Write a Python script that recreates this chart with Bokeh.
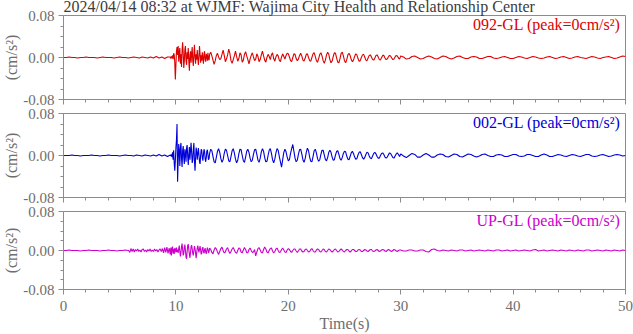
import numpy as np
from bokeh.plotting import figure
from bokeh.layouts import column
from bokeh.models import Range1d, FixedTicker, PrintfTickFormatter, Label
from bokeh.embed import file_html
from bokeh.resources import INLINE

TITLE = "2024/04/14 08:32 at WJMF: Wajima City  Health and Relationship Center"
CHANNELS = ["092-GL", "002-GL", "UP-GL"]
PEAKS = [0, 0, 0]
X_TICKS = [0, 10, 20, 30, 40, 50]
Y_TICKS = [-0.08, 0.0, 0.08]

# acceleration samples in 0.001 cm/s^2, per time segment
# (segment start time in s, sample step in s, values)
red_quiet = [0,0,1,0,0,-1,0,0,1,0,0,0,-1,0,1,0,0,0,-1,0,1,0,0,-1,0,1,0,-1,1,0,-1,1,-1,2,-1,1,-2,1]
red_main = [1,-2,2,-1,4,-3,8,5,-10,-42,-15,12,20,5,22,-8,10,18,-12,6,
            -18,14,29,8,-20,-6,16,22,-5,-14,10,-3,18,-8,-25,4,12,-10,8,20,
            -6,-16,5,24,2,-12,6,-4,14,-2,-14,3,22,6,-10,4,-6,10,-2,-12,
            6,12,-4,-8,7,3,-6,9,-3,-5]
red_coda = [6,10,3,-5,-13,-6,4,8,1,-4,
            -2,6,14,4,-8,-3,5,16,8,-6,
            -11,-4,3,12,2,-7,-2,9,5,-9,
            -5,6,11,3,-4,-12,-3,4,9,1,
            -6,-3,7,2,-8,-4,5,12,3,-5,
            -9,0,6,2,-4,5,9,-2,-7,1,
            6,3,-5,-8,1,7,2,-3,4,8,
            7,1,-6,-8,0,7,6,-2,-6,-3,
            4,8,3,-5,-7,-1,6,7,0,-6,
            -7,0,7,9,2,-6,-9,-2,6,9,
            3,-6,-11,-5,5,10,6,-4,-10,-7,
            2,9,8,-1,-9,-10,-2,8,10,3,
            -6,-10,-4,5,8,4,-4,-8,-5,2,
            7,5,-2,-7,-6,0,5,6,1,-5,
            -6,-1,4,5,1,-4,-5,-1,4,5,
            1,-4,-5,0,4,4,-1,-4,-3,1,
            4,3,-1,-4,-3,1,4,3,-1,-3]
red_tail = [3,1,-3,-2,2,3,0,-3,-2,1,3,1,-2,-3,0,3,2,-1,-3,-1,
            2,3,0,-2,-2,1,2,1,-2,-2,0,2,2,-1,-2,-1,1,2,0,-2,
            -2,0,2,1,-1,-2,0,2,1,-1,-2,-1,1,2,0,-2,-1,1,2,0,
            -2,-1,1,2,0,-1,-2,0,2,1,-1,-2,0,1,2,0,-2,-1,1,3,2]

blue_quiet = [0,0,0,1,0,0,-1,0,0,0,1,0,0,-1,0,0,1,0,0,0,-1,0,1,0,0,-1,1,0,-1,1,0,-1,1,-1,2,-1,1,-2]
blue_main = [1,-1,2,-3,6,-8,10,-14,-29,-10,14,30,60,-50,-12,22,8,-20,15,24,
             -6,-22,10,18,-4,-16,12,6,-12,14,20,-2,-18,2,16,-8,10,24,6,-14,
             -8,12,24,-10,-29,-6,15,8,-8,4,14,2,-12,-16,0,12,10,-4,-10,2,
             12,8,-6,-12,-4,8,11,2,-8,-6]
blue_coda = [4,12,9,-2,-12,-14,-3,8,13,6,
             -6,-13,-8,4,12,10,0,-10,-12,-2,
             9,13,5,-7,-14,-9,3,12,11,0,
             -10,-13,-3,8,12,6,-5,-12,-9,2,
             11,12,2,-9,-13,-5,7,13,8,-4,
             -12,-11,0,10,13,4,-8,-14,-7,5,
             13,10,-2,-12,-22,-8,6,12,7,-3,
             -10,-8,4,13,21,8,-5,-12,-9,2,
             11,12,3,-8,-13,-6,6,14,9,-3,
             -11,-12,-2,9,12,5,-6,-11,-8,2,
             10,10,1,-8,-10,-4,6,10,6,-3,
             -9,-8,1,8,9,2,-6,-9,-4,4,
             8,7,-1,-7,-8,-2,5,8,4,-3,
             -7,-6,1,6,7,2,-4,-7,-4,2,
             6,5,-1,-5,-6,-1,4,6,3,-2,
             -5,-5,0,4,5,2,-3,-5,-3,1,
             5,4,0,-4,-5,-1,3,5,2,-2]
blue_tail = [3,-1,-4,0,4,2,-3,-3,1,4,1,-3,-3,1,3,2,-2,-3,0,3,
             2,-2,-3,0,3,2,-1,-3,-1,2,3,0,-2,-2,1,2,1,-2,-2,0,
             2,2,-1,-2,-1,2,2,0,-2,-2,1,3,1,-2,-2,0,2,1,-1,-2,
             0,2,1,-1,-2,0,2,2,-1,-2,-1,1,2,0,-2,-1,1,2,1,-1,0]

mag_quiet = [0,0,1,0,0,0,-1,0,0,1,0,0,0,-1,0,0,1,0,0,-1,0,0,1,0]
mag_onset = [0,-4,4,-2,3,-3,2,-1,3,-2,1,-3,2,3,-2,1,-3,2,-1,3,
             -2,1,-2,3,-1,2,-3,1,3,-2,4,-5,6,-4,7,-6,5]
mag_main = [-8,6,-10,4,8,-6,3,-7,5,2,-4,6,-3,2,-5,4,10,-2,-12,-4,
            8,14,2,-10,-6,6,12,0,-14,-17,-2,10,13,2,-8,-15,-4,8,11,3,
            -6,-10,0,9,4,-5,-16,-6,5,10,2,-4,3,9,1,-8,-5,4,7,-2,
            -6,1,5,-3,-7,0,6,2,-5,-2]
mag_coda = [5,2,-4,-7,1,6,3,-3,-8,-2,
            4,7,0,-5,-3,3,6,-1,-6,-2,
            3,6,1,-4,-6,0,5,4,-3,-5,
            1,6,2,-4,-5,2,5,0,-4,-3,
            2,-11,-3,4,6,1,-4,-5,2,7,
            3,-3,-5,0,4,5,-1,-5,-2,3,
            5,0,-4,-3,2,5,1,-3,-4,1,
            4,2,-2,-4,0,3,3,-1,-4,-1,
            3,3,-1,-3,-2,2,3,0,-3,-2,
            2,4,0,-3,-3,1,3,2,-2,-3,
            0,3,2,-2,-3,0,3,2,-1,-3,
            -1,2,3,0,-3,-2,1,3,1,-2,
            -3,0,2,2,-1,-3,-1,2,2,0,
            -2,-2,1,2,1,-2,-2,0,2,1,
            -1,-2,0,2,2,-1,-2,-1,1,2,
            0,-2,-1,1,2,1,-1,-2,0,2,
            1,-1,-2,0,2,1,-1,-2,0,1]
mag_tail = [1,-1,-1,1,1,-1,-1,1,1,-2,-3,2,3,0,-1,1,0,-1,1,0,
            -1,1,1,-1,0,1,-1,0,1,0,-1,1,0,-1,1,1,-1,0,1,-1,
            0,1,-1,0,1,0,-1,1,2,-1,0,1,-1,0,1,0,-1,1,0,-1,
            1,0,-1,1,0,-1,1,1,-1,0,1,0,-1,1,0,-1,1,0,-1,1,0]

TRACES = [
    [(0.0, 0.25, red_quiet), (9.5, 0.05, red_main), (13.0, 0.1, red_coda), (30.0, 0.25, red_tail)],
    [(0.0, 0.25, blue_quiet), (9.5, 0.05, blue_main), (13.0, 0.1, blue_coda), (30.0, 0.25, blue_tail)],
    [(0.0, 0.25, mag_quiet), (5.8, 0.1, mag_onset), (9.5, 0.05, mag_main), (13.0, 0.1, mag_coda), (30.0, 0.25, mag_tail)],
]
COLORS = ["#dc0000", "#0000d8", "#cc00cc"]

FONT = "Liberation Serif"
FS = "16px"
FS_TICK = "15px"
GRAY_TXT = "#6e6e6e"
GRAY_AX = "#8c8c8c"

def build(segs):
    ts, vs = [], []
    for start, step, vals in segs:
        ts.append(start + step * np.arange(len(vals)))
        vs.append(np.array(vals, dtype=float) * 0.001)
    return np.concatenate(ts), np.concatenate(vs)

OVERLAP = 16
heights = [117, 114, 137]
tops = [17, 14, 14]
bottoms = [16, 16, 39]
figs = []
for i in range(3):
    p = figure(width=633, height=heights[i], output_backend="svg", toolbar_location=None,
               x_range=Range1d(0, 50), y_range=Range1d(-0.08, 0.08),
               min_border_left=63, min_border_right=8,
               min_border_top=tops[i], min_border_bottom=bottoms[i],
               margin=(0 if i == 0 else -OVERLAP, 0, 0, 0))
    p.grid.visible = False
    p.outline_line_color = GRAY_AX
    p.outline_line_width = 1
    p.background_fill_color = "white"
    p.border_fill_alpha = 0
    t, v = build(TRACES[i])
    p.line(t, v, line_color=COLORS[i], line_width=1.1)

    ya = p.yaxis[0]
    ya.ticker = FixedTicker(ticks=Y_TICKS, minor_ticks=[-0.06, -0.04, -0.02, 0.02, 0.04, 0.06])
    ya.formatter = PrintfTickFormatter(format="%.2f")
    ya.axis_line_color = GRAY_AX
    ya.major_tick_line_color = GRAY_AX
    ya.minor_tick_line_color = GRAY_AX
    ya.major_tick_out = 5
    ya.major_tick_in = 0
    ya.minor_tick_out = 3
    ya.minor_tick_in = 0
    ya.major_label_standoff = 4
    ya.major_label_text_font = FONT
    ya.major_label_text_font_size = FS_TICK
    ya.major_label_text_color = GRAY_TXT
    ya.axis_label = "(cm/s²)"
    ya.axis_label_text_font = FONT
    ya.axis_label_text_font_size = FS
    ya.axis_label_text_line_height = 1.0
    ya.axis_label_text_font_style = "normal"
    ya.axis_label_text_color = GRAY_TXT
    ya.axis_label_standoff = 0

    xa = p.xaxis[0]
    xa.ticker = FixedTicker(ticks=X_TICKS, minor_ticks=list(range(0, 51, 2)))
    xa.axis_line_color = GRAY_AX
    xa.major_tick_line_color = GRAY_AX
    xa.minor_tick_line_color = GRAY_AX
    xa.major_tick_out = 5
    xa.major_tick_in = 0
    xa.minor_tick_out = 3
    xa.minor_tick_in = 0
    if i < 2:
        xa.major_label_text_font_size = "0px"
        xa.major_label_standoff = 0
    else:
        xa.major_label_standoff = 6
        xa.major_label_text_font = FONT
        xa.major_label_text_font_size = FS_TICK
        xa.major_label_text_color = GRAY_TXT
        xa.axis_label = "Time(s)"
        xa.axis_label_text_font = FONT
        xa.axis_label_text_font_size = FS
        xa.axis_label_text_font_style = "normal"
        xa.axis_label_text_color = GRAY_TXT
        xa.axis_label_standoff = 1

    p.add_layout(Label(x=50, y=0.08, x_offset=-5, y_offset=-9,
                       text=f"{CHANNELS[i]} (peak={PEAKS[i]}cm/s²)",
                       text_align="right", text_baseline="alphabetic",
                       text_font=FONT, text_font_size=FS, text_color=COLORS[i]))
    if i == 0:
        p.title.text = TITLE
        p.title.text_font = FONT
        p.title.text_font_size = FS
        p.title.text_font_style = "normal"
        p.title.text_color = "#3c3c3c"
        p.title.standoff = -2
        p.title.offset = 0
        p.title.align = "left"
        p.title.vertical_align = "top"
    figs.append(p)

root = column(*figs, spacing=0, styles={"position": "absolute", "left": "0px", "top": "-2px"})
open("out.html", "w").write(file_html(root, INLINE))
